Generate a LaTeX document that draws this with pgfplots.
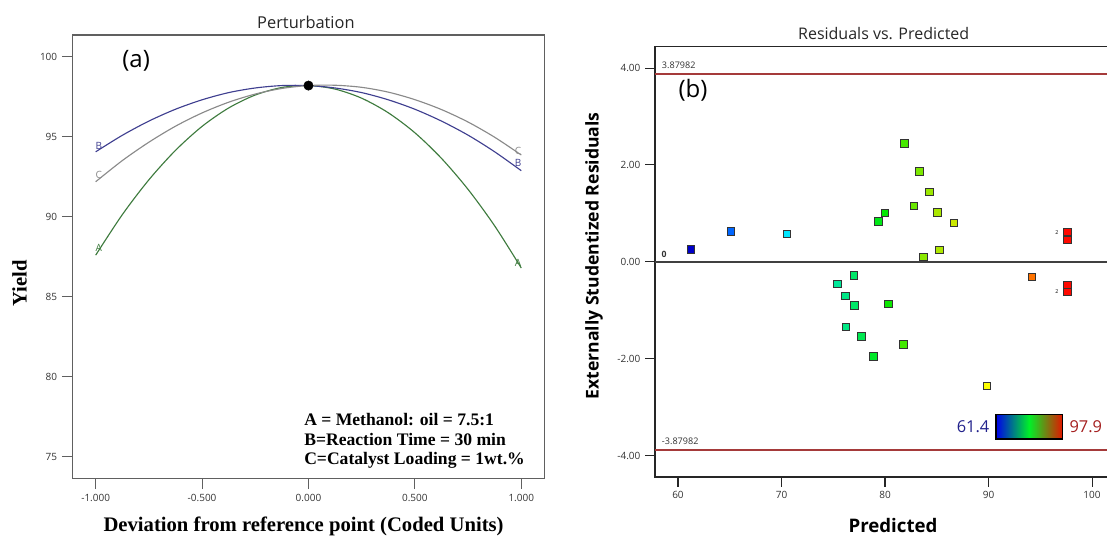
\documentclass[border=0pt]{standalone}
\usepackage{fontspec}
\setmainfont{Liberation Serif}
\setsansfont{Open Sans}
\usepackage{pgfplots}
\pgfplotsset{compat=1.18}
\definecolor{curveA}{HTML}{3E7B3E}
\definecolor{curveB}{HTML}{3F3F90}
\definecolor{curveC}{HTML}{8A8A8A}
\definecolor{boxgray}{HTML}{606060}
\definecolor{ticktext}{HTML}{333333}
\definecolor{limred}{HTML}{A53A3A}
\definecolor{lownavy}{HTML}{22228C}
\definecolor{highred}{HTML}{A41E1E}
\pgfplotsset{
    panel/.style={
        anchor=south west,
        scale only axis,
        clip=false,
        tick pos=left,
        tick align=outside,
        major tick length=7.8pt,
        tick label style={font=\sffamily\fontsize{7.5}{8.8}\selectfont,text=ticktext},
        /pgf/number format/assume math mode=true,
    },
}
\begin{document}
\begin{tikzpicture}
\useasboundingbox (0,0) rectangle (830.25pt,402.75pt);

% (a) perturbation plot
\begin{axis}[
    panel,
    at={(54.2pt,43.7pt)},
    width=354pt,
    height=332.8pt,
    xmin=-1.11, xmax=1.108,
    ymin=73.63, ymax=101.36,
    xtick={-1,-0.5,0,0.5,1},
    xticklabels={-1.000,-0.500,0.000,0.500,1.000},
    ytick={75,80,85,90,95,100},
    axis line style={draw=boxgray,line width=1.1pt},
    tick style={draw=boxgray,line width=0.8pt},
    xlabel={Deviation from reference point (Coded Units)},
    ylabel={Yield},
    every axis x label/.style={at={(rel axis cs:0.49,0)},anchor=center,yshift=-35.8pt,
        font=\bfseries\fontsize{15.5}{17}\selectfont},
    every axis y label/.style={at={(rel axis cs:0,0.44)},anchor=center,xshift=-39.5pt,rotate=90,
        font=\bfseries\fontsize{15.5}{17}\selectfont},
]
\addplot[curveA,line width=0.85pt,smooth] coordinates {
(-1,87.6) (-0.875,90.13) (-0.75,92.31) (-0.625,94.15) (-0.5,95.65) (-0.375,96.80) (-0.25,97.61) (-0.125,98.08)
(0,98.2) (0.125,97.98) (0.25,97.41) (0.375,96.50) (0.5,95.25) (0.625,93.65) (0.75,91.71) (0.875,89.43) (1,86.8)};
\addplot[curveB,line width=0.85pt,smooth] coordinates {
(-1,94.06) (-0.875,95.09) (-0.75,95.98) (-0.625,96.72) (-0.5,97.31) (-0.375,97.76) (-0.25,98.05) (-0.125,98.20)
(0,98.2) (0.125,98.05) (0.25,97.76) (0.375,97.31) (0.5,96.72) (0.625,95.98) (0.75,95.10) (0.875,94.06) (1,92.88)};
\addplot[curveC,line width=0.85pt,smooth] coordinates {
(-1,92.19) (-0.875,93.51) (-0.75,94.66) (-0.625,95.66) (-0.5,96.49) (-0.375,97.16) (-0.25,97.67) (-0.125,98.02)
(0,98.2) (0.125,98.22) (0.25,98.09) (0.375,97.79) (0.5,97.32) (0.625,96.70) (0.75,95.92) (0.875,94.97) (1,93.86)};
\addplot[only marks,mark=*,mark size=3.5pt,black] coordinates {(0,98.2)};
\node[font=\sffamily\fontsize{7.5}{8}\selectfont,text=curveB] at (axis cs:-0.985,94.45) {B};
\node[font=\sffamily\fontsize{7.5}{8}\selectfont,text=curveC] at (axis cs:-0.985,92.6) {C};
\node[font=\sffamily\fontsize{7.5}{8}\selectfont,text=curveA] at (axis cs:-0.985,88.05) {A};
\node[font=\sffamily\fontsize{7.5}{8}\selectfont,text=curveC] at (axis cs:0.985,94.1) {C};
\node[font=\sffamily\fontsize{7.5}{8}\selectfont,text=curveB] at (axis cs:0.985,93.35) {B};
\node[font=\sffamily\fontsize{7.5}{8}\selectfont,text=curveA] at (axis cs:0.985,87.1) {A};
\node[font=\sffamily\fontsize{12.3}{14}\selectfont,text=black!85] at (rel axis cs:0.495,1) [yshift=9.4pt] {Perturbation};
\node[font=\sffamily\fontsize{18}{20}\selectfont] at (axis cs:-0.81,99.73) {(a)};
\node[anchor=base west,inner sep=0pt,font=\bfseries\fontsize{13.2}{15}\selectfont] at (axis cs:-0.021,76.94) {A = Methanol: oil = 7.5:1};
\node[anchor=base west,inner sep=0pt,font=\bfseries\fontsize{13.2}{15}\selectfont] at (axis cs:-0.021,75.73) {B=Reaction Time = 30 min};
\node[anchor=base west,inner sep=0pt,font=\bfseries\fontsize{13.2}{15}\selectfont] at (axis cs:-0.021,74.53) {C=Catalyst Loading = 1wt.\%};
\end{axis}

% (b) residuals vs predicted
\begin{axis}[
    panel,
    at={(491.25pt,45pt)},
    width=347.2pt,
    height=322.7pt,
    xmin=57.78, xmax=102.5,
    ymin=-4.44, ymax=4.44,
    xtick={60,70,80,90,100},
    ytick={-4,-2,0,2,4},
    yticklabels={-4.00,-2.00,0.00,2.00,4.00},
    major tick length=7.4pt,
    axis line style={draw=black!85,line width=1.1pt},
    tick style={draw=black!85,line width=0.8pt},
    xlabel={Predicted},
    ylabel={Externally Studentized Residuals},
    every axis x label/.style={at={(axis cs:80.77,-4.44)},anchor=center,yshift=-36.5pt,
        font=\sffamily\bfseries\fontsize{14}{16}\selectfont},
    every axis y label/.style={at={(rel axis cs:0,0.514)},anchor=center,xshift=-45.7pt,rotate=90,
        font=\sffamily\bfseries\fontsize{13.2}{15}\selectfont},
    colormap={design}{rgb255(0)=(0,0,200) rgb255(36)=(0,100,255) rgb255(91)=(0,230,255)
        rgb255(146)=(0,232,140) rgb255(186)=(0,232,0) rgb255(226)=(150,232,0)
        rgb255(256)=(210,232,0) rgb255(286)=(255,255,0) rgb255(326)=(255,120,0) rgb255(365)=(255,0,0)},
    point meta min=61.4, point meta max=97.9,
]
\addplot[limred,line width=1.5pt] coordinates {(57.78,3.87982) (102.5,3.87982)};
\addplot[limred,line width=1.5pt] coordinates {(57.78,-3.87982) (102.5,-3.87982)};
\addplot[black!75,line width=1.6pt] coordinates {(57.78,0) (102.5,0)};
\addplot[scatter,only marks,mark=square*,mark size=2.75pt,point meta=x,
    scatter/use mapped color={draw=black!80,fill=mapped color},
    mark options={line width=0.6pt}] coordinates {
(61.26,0.255) (65.09,0.628) (70.53,0.579) (81.87,2.448) (83.32,1.869) (84.28,1.448)
(82.80,1.159) (79.97,1.007) (79.36,0.834) (85.05,1.021) (86.67,0.800) (85.25,0.248)
(83.70,0.103) (77.00,-0.276) (75.39,-0.455) (76.17,-0.703) (77.03,-0.897) (80.32,-0.869)
(76.23,-1.338) (77.71,-1.538) (81.77,-1.703) (78.87,-1.952) (89.82,-2.566) (94.17,-0.310)
(97.61,0.620) (97.61,0.460) (97.61,-0.470) (97.61,-0.620)};
\node[anchor=south west,inner sep=1pt,font=\sffamily\fontsize{6.8}{8}\selectfont,text=ticktext] at (axis cs:58.3,3.95) {3.87982};
\node[anchor=south west,inner sep=1pt,font=\sffamily\fontsize{6.8}{8}\selectfont,text=ticktext] at (axis cs:58.3,-3.81) {-3.87982};
\node[font=\sffamily\bfseries\fontsize{6.5}{8}\selectfont,text=ticktext] at (axis cs:58.65,0.16) {0};
\node[font=\sffamily\fontsize{4}{5}\selectfont] at (axis cs:96.6,0.606) {2};
\node[font=\sffamily\fontsize{4}{5}\selectfont] at (axis cs:96.6,-0.604) {2};
\shade[left color={rgb,255:red,0;green,0;blue,235},right color={rgb,255:red,225;green,25;blue,0},
    middle color={rgb,255:red,0;green,240;blue,40}] (axis cs:90.72,-3.146) rectangle (axis cs:97.1,-3.656);
\draw[black,line width=0.8pt] (axis cs:90.72,-3.146) rectangle (axis cs:97.1,-3.656);
\node[anchor=east,inner sep=0pt,font=\sffamily\fontsize{12.3}{14}\selectfont,text=lownavy] at (axis cs:90.1,-3.40) {61.4};
\node[anchor=west,inner sep=0pt,font=\sffamily\fontsize{12.3}{14}\selectfont,text=highred] at (axis cs:97.8,-3.40) {97.9};
\node[font=\sffamily\fontsize{12}{14}\selectfont,text=black!85] at (axis cs:79.87,4.44) [yshift=10pt] {Residuals vs. Predicted};
\node[font=\sffamily\fontsize{18}{20}\selectfont] at (axis cs:61.45,3.54) {(b)};
\end{axis}
\end{tikzpicture}
\end{document}
